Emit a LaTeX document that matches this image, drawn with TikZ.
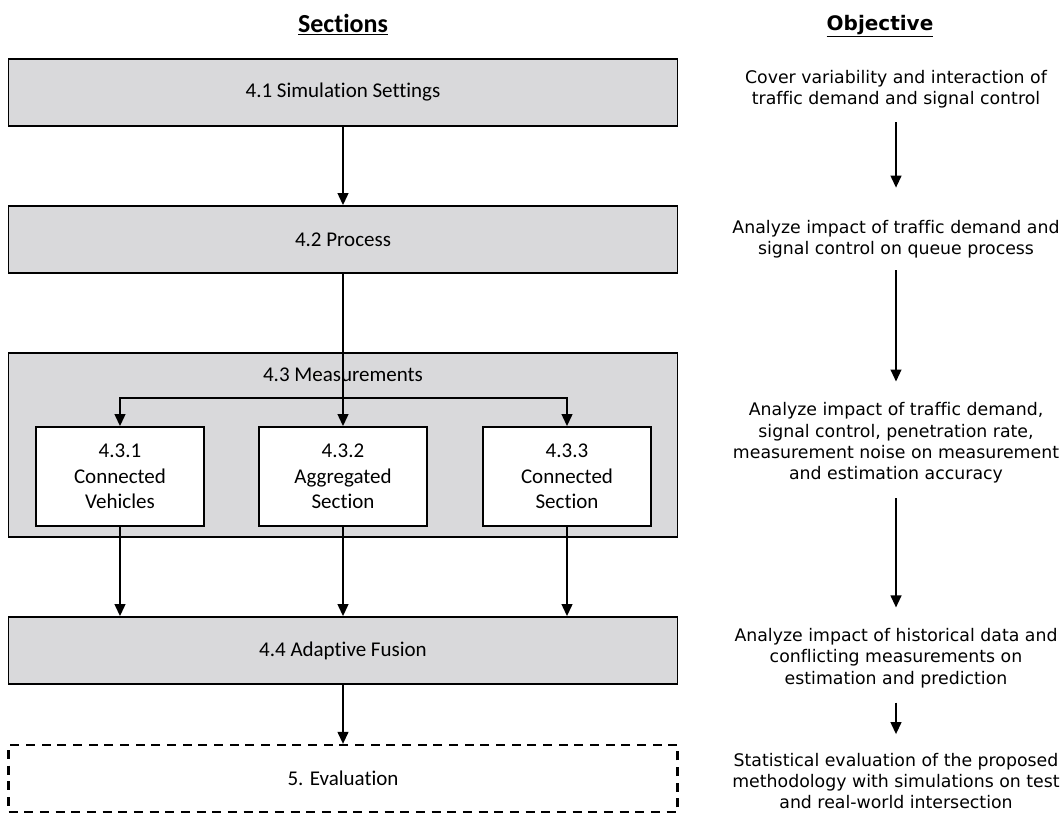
\documentclass[tikz,border=0pt]{standalone}
\usepackage{fontspec}
\setmainfont{Carlito}[Ligatures=NoCommon]
\newfontfamily\objfont{DejaVu Sans}[Ligatures=NoCommon]
\usetikzlibrary{arrows.meta}

\definecolor{boxgray}{RGB}{217,217,219}

\begin{document}
\begin{tikzpicture}[x=0.75pt,y=-0.75pt,
  secfont/.style={font=\fontsize{15.75}{19.2}\selectfont},
  secbox/.style={draw=black, line width=1.3pt, fill=boxgray,
    minimum width=501.75pt, minimum height=50.25pt, inner sep=0pt, secfont},
  subbox/.style={draw=black, line width=1.3pt, fill=white,
    minimum width=126pt, minimum height=74.25pt, inner sep=0pt,
    align=center, secfont},
  evalbox/.style={secbox, fill=none, line width=1.6pt,
    dash pattern=on 6.75pt off 5pt},
  flow/.style={line width=1.5pt, -{Triangle[length=9pt,width=8pt]}},
  objtext/.style={align=center, inner sep=0pt,
    font=\objfont\fontsize{13}{16}\selectfont},
  heading/.style={inner sep=0pt}
]
\useasboundingbox (0,0) rectangle (1062,813);

% column headings
\node[heading, font=\bfseries\fontsize{19.5}{23}\selectfont] (hsec) at (343,25) {\underline{Sections}};
\node[heading, font=\objfont\bfseries\fontsize{15}{18}\selectfont] (hobj) at (880,26) {\underline{Objective}};

% section boxes
\node[secbox] (p41) at (343,92.5) {4.1 Simulation Settings};
\node[secbox] (p42) at (343,239.5) {4.2 Process};
\node[secbox, minimum height=138pt] (p43) at (343,445) {};
\node[secfont, inner sep=0pt] (p43t) at (343,375) {4.3 Measurements};
\node[subbox] (s431) at (120,476.5) {4.3.1\\Connected\\Vehicles};
\node[subbox] (s432) at (343,476.5) {4.3.2\\Aggregated\\Section};
\node[subbox] (s433) at (567,476.5) {4.3.3\\Connected\\Section};
\node[secbox] (p44) at (343,650.5) {4.4 Adaptive Fusion};
\node[evalbox] (p5) at (343,778.5) {5. Evaluation};

% section flow
\coordinate (split) at (343,398);
\draw[flow] (p41.south) -- (p42.north);
\draw[flow] (p42.south) -- (s432.north);
\draw[flow] (split) -| (s431.north);
\draw[flow] (split) -| (s433.north);
\draw[flow] (s431.south) -- (s431.south |- p44.north);
\draw[flow] (s432.south) -- (p44.north);
\draw[flow] (s433.south) -- (s433.south |- p44.north);
\draw[flow] (p44.south) -- (p5.north);

% objectives
\node[objtext] (o1) at (896,89.5) {Cover variability and interaction of\\traffic demand and signal control};
\node[objtext] (o2) at (896,239) {Analyze impact of traffic demand and\\signal control on queue process};
\node[objtext] (o3) at (896,443) {Analyze impact of traffic demand,\\signal control, penetration rate,\\measurement noise on measurement\\and estimation accuracy};
\node[objtext] (o4) at (896,658) {Analyze impact of historical data and\\conflicting measurements on\\estimation and prediction};
\node[objtext] (o5) at (896,781) {Statistical evaluation of the proposed\\methodology with simulations on test\\and real-world intersection};

\draw[flow, shorten <=10pt, shorten >=24pt] (o1.south) -- (o2.north);
\draw[flow, shorten <=9pt, shorten >=15.6pt] (o2.south) -- (o3.north);
\draw[flow, shorten <=11pt, shorten >=15.4pt] (o3.south) -- (o4.north);
\draw[flow, shorten <=10.9pt, shorten >=13.9pt] (o4.south) -- (o5.north);
\end{tikzpicture}
\end{document}
